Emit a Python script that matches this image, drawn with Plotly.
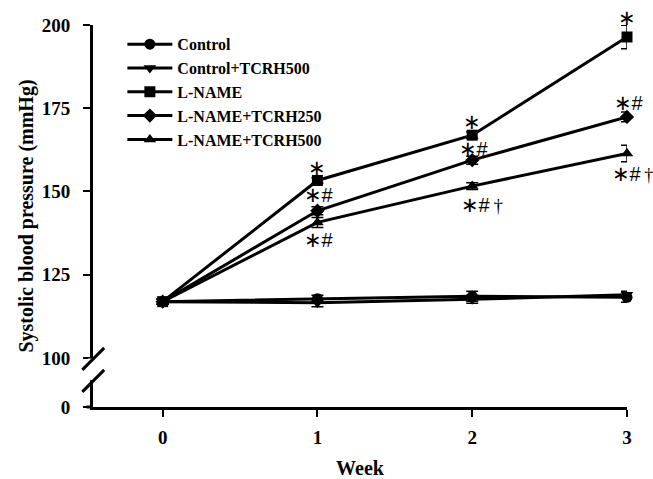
import plotly.graph_objects as go

weeks = [0, 1, 2, 3]
series_names = ["Control", "Control+TCRH500", "L-NAME", "L-NAME+TCRH250", "L-NAME+TCRH500"]
control = [116.9, 117.8, 118.5, 118.2]
control_err = [0.8, 1.0, 1.5, 1.5]
control_tcrh500 = [116.9, 116.6, 117.6, 119.0]
control_tcrh500_err = [0.8, 1.2, 1.2, 1.0]
lname = [116.9, 153.3, 166.9, 196.4]
lname_err = [0.8, 0.8, 1.0, 3.5]
lname_tcrh250 = [116.9, 144.2, 159.4, 172.4]
lname_tcrh250_err = [0.8, 1.2, 1.2, 1.5]
lname_tcrh500 = [116.9, 140.7, 151.6, 161.4]
lname_tcrh500_err = [0.8, 1.5, 1.0, 2.5]
symbols = ["circle", "triangle-down", "square", "diamond", "triangle-up"]

y_tick_vals = [85.25, 100, 125, 150, 175, 200]
y_tick_text = ["0", "100", "125", "150", "175", "200"]
x_tick_vals = [0, 1, 2, 3]

STAR = '<span style="font-family:DejaVu Sans;font-size:21px">∗</span>'
DAG = '<span style="font-family:Liberation Serif;font-size:19px">\u2009†</span>'
DAG_TIGHT = '<span style="font-family:Liberation Serif;font-size:18px">\u2009†</span>'
# significance labels: (week, value, text, vertical shift px, horizontal shift px, anchor)
sig_labels = [
    (1, lname[1], STAR, 12, 0, "center"),
    (1, lname_tcrh250[1], STAR + "#", 16, 2, "center"),
    (1, lname_tcrh500[1], STAR + "#", -18, 2, "center"),
    (2, lname[2], STAR, 13, 0, "center"),
    (2, lname_tcrh250[2], STAR + "#", 11, 2, "center"),
    (2, lname_tcrh500[2], STAR + "#" + DAG, -19, -12, "left"),
    (3, lname[3], STAR, 19, 0, "center"),
    (3, lname_tcrh250[3], STAR + "#", 14, 2, "center"),
    (3, lname_tcrh500[3], STAR + "#" + DAG_TIGHT, -20, -16, "left"),
]

data = [control, control_tcrh500, lname, lname_tcrh250, lname_tcrh500]
errs = [control_err, control_tcrh500_err, lname_err, lname_tcrh250_err, lname_tcrh500_err]

fig = go.Figure()
for name, vals, err, sym in zip(series_names, data, errs, symbols):
    fig.add_trace(go.Scatter(
        x=weeks, y=vals, name=name, mode="lines+markers",
        line=dict(color="black", width=3),
        marker=dict(symbol=sym, size=11, color="black"),
        error_y=dict(type="data", array=err, color="black", thickness=1.5, width=6),
        cliponaxis=False,
    ))

serif = "Liberation Serif"
for wk, val, txt, ys, xs, anc in sig_labels:
    fig.add_annotation(
        x=wk, y=val, xref="x", yref="y", text=txt, showarrow=False,
        yshift=ys, xshift=xs, xanchor=anc, borderpad=0,
        font=dict(family="Liberation Sans", size=20, color="black"),
    )

# axis break
fig.add_shape(type="rect", xref="paper", yref="y", x0=-0.01, x1=0.01, y0=93.3, y1=99.8,
              fillcolor="white", line=dict(width=0), layer="above")
fig.add_shape(type="line", xref="paper", yref="y", x0=-0.02, x1=0.021, y0=96.4, y1=103.0,
              line=dict(color="black", width=3), layer="above")
fig.add_shape(type="line", xref="paper", yref="y", x0=-0.02, x1=0.021, y0=89.8, y1=96.4,
              line=dict(color="black", width=3), layer="above")
fig.add_shape(type="line", xref="paper", yref="paper", x0=-0.012, x1=0, y0=0, y1=0,
              line=dict(color="black", width=3), layer="above")

fig.update_layout(
    width=653, height=479,
    margin=dict(l=93, r=26, t=25, b=72, autoexpand=False),
    plot_bgcolor="white", paper_bgcolor="white",
    font=dict(family=serif, color="black", size=19),
    showlegend=True,
    legend=dict(x=0.055, y=0.994, xanchor="left", yanchor="top",
                font=dict(family=serif, size=16, color="black", weight="bold"),
                bgcolor="rgba(0,0,0,0)", itemwidth=45),
    xaxis=dict(range=[-0.45, 3], tickvals=x_tick_vals, showgrid=False, zeroline=False,
               showline=True, linecolor="black", linewidth=3, automargin=False,
               ticks="outside", ticklen=7, tickwidth=2, tickcolor="black",
               tickfont=dict(family=serif, size=19, weight="bold"), ticklabelstandoff=4,
               title=dict(text="<b>Week</b>", font=dict(family=serif, size=20), standoff=21)),
    yaxis=dict(range=[85.25, 200], tickvals=y_tick_vals, ticktext=y_tick_text,
               showgrid=False, zeroline=False, automargin=False,
               showline=True, linecolor="black", linewidth=3,
               ticks="outside", ticklen=7, tickwidth=2, tickcolor="black",
               tickfont=dict(family=serif, size=19, weight="bold"), ticklabelstandoff=9,
               title=dict(text="<b>Systolic blood pressure (mmHg)</b>",
                          font=dict(family=serif, size=20), standoff=3)),
)

fig.write_html("out.html", config={"displayModeBar": False},
               post_script="document.body.style.margin='0';")
